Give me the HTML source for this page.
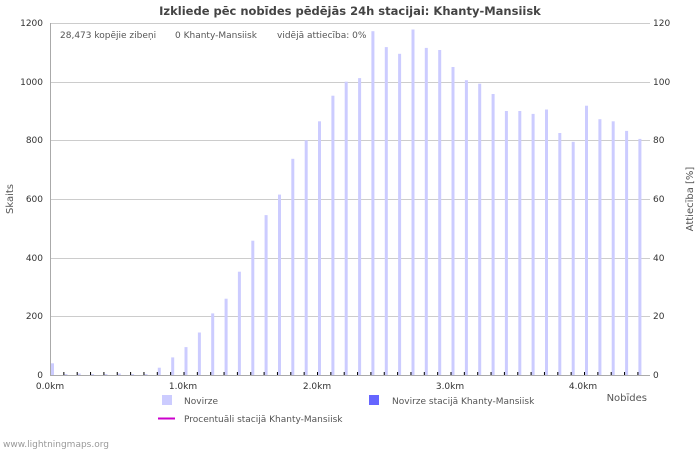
<!DOCTYPE html>
<html><head><meta charset="utf-8"><style>
body{margin:0;background:#fff}
svg{display:block;font-family:"DejaVu Sans","Liberation Sans",sans-serif}
</style></head><body>
<svg width="700" height="450" viewBox="0 0 700 450">
<rect width="700" height="450" fill="#fff"/>
<text x="350" y="15" text-anchor="middle" font-size="11.5" font-weight="bold" fill="#444">Izkliede pēc nobīdes pēdējās 24h stacijai: Khanty-Mansiisk</text>
<g stroke="#ccc" stroke-width="1">
<line x1="50" y1="23.5" x2="650" y2="23.5"/>
<line x1="50" y1="82.5" x2="650" y2="82.5"/>
<line x1="50" y1="140.5" x2="650" y2="140.5"/>
<line x1="50" y1="199.5" x2="650" y2="199.5"/>
<line x1="50" y1="258.5" x2="650" y2="258.5"/>
<line x1="50" y1="316.5" x2="650" y2="316.5"/>
</g>
<g fill="#ccccff">
<rect x="51.0" y="363.3" width="3" height="11.7"/>
<rect x="64.4" y="374.1" width="3" height="0.9"/>
<rect x="77.7" y="373.5" width="3" height="1.5"/>
<rect x="91.1" y="374.1" width="3" height="0.9"/>
<rect x="104.4" y="374.1" width="3" height="0.9"/>
<rect x="117.8" y="373.5" width="3" height="1.5"/>
<rect x="131.1" y="374.1" width="3" height="0.9"/>
<rect x="144.5" y="374.1" width="3" height="0.9"/>
<rect x="157.8" y="367.7" width="3" height="7.3"/>
<rect x="171.2" y="357.4" width="3" height="17.6"/>
<rect x="184.5" y="347.1" width="3" height="27.9"/>
<rect x="197.9" y="332.5" width="3" height="42.5"/>
<rect x="211.2" y="313.4" width="3" height="61.6"/>
<rect x="224.6" y="298.7" width="3" height="76.3"/>
<rect x="237.9" y="271.7" width="3" height="103.3"/>
<rect x="251.3" y="240.7" width="3" height="134.3"/>
<rect x="264.6" y="215.1" width="3" height="159.9"/>
<rect x="278.0" y="194.6" width="3" height="180.4"/>
<rect x="291.3" y="158.8" width="3" height="216.2"/>
<rect x="304.7" y="140.3" width="3" height="234.7"/>
<rect x="318.0" y="121.3" width="3" height="253.7"/>
<rect x="331.4" y="95.7" width="3" height="279.3"/>
<rect x="344.7" y="81.7" width="3" height="293.3"/>
<rect x="358.1" y="78.1" width="3" height="296.9"/>
<rect x="371.4" y="31.2" width="3" height="343.8"/>
<rect x="384.8" y="47.1" width="3" height="327.9"/>
<rect x="398.1" y="53.8" width="3" height="321.2"/>
<rect x="411.5" y="29.5" width="3" height="345.5"/>
<rect x="424.8" y="47.9" width="3" height="327.1"/>
<rect x="438.2" y="50.0" width="3" height="325.0"/>
<rect x="451.5" y="67.0" width="3" height="308.0"/>
<rect x="464.9" y="80.2" width="3" height="294.8"/>
<rect x="478.2" y="83.7" width="3" height="291.3"/>
<rect x="491.6" y="94.0" width="3" height="281.0"/>
<rect x="504.9" y="111.0" width="3" height="264.0"/>
<rect x="518.3" y="111.0" width="3" height="264.0"/>
<rect x="531.6" y="113.9" width="3" height="261.1"/>
<rect x="545.0" y="109.5" width="3" height="265.5"/>
<rect x="558.3" y="133.0" width="3" height="242.0"/>
<rect x="571.7" y="141.8" width="3" height="233.2"/>
<rect x="585.0" y="105.7" width="3" height="269.3"/>
<rect x="598.4" y="119.2" width="3" height="255.8"/>
<rect x="611.7" y="121.3" width="3" height="253.7"/>
<rect x="625.1" y="130.9" width="3" height="244.1"/>
<rect x="638.4" y="138.9" width="3" height="236.1"/>
</g>
<line x1="63.35" y1="373.5" x2="650" y2="373.5" stroke="#000" stroke-width="3" stroke-dasharray="1 12.35"/>
<line x1="50.5" y1="23" x2="50.5" y2="375" stroke="#aaa"/>
<line x1="50" y1="375.5" x2="650" y2="375.5" stroke="#aaa"/>
<g font-size="9" fill="#333" text-anchor="end">
<text x="43" y="26">1200</text><text x="43" y="85">1000</text><text x="43" y="143">800</text>
<text x="43" y="202">600</text><text x="43" y="261">400</text><text x="43" y="319">200</text><text x="43" y="378">0</text>
</g>
<g font-size="9" fill="#333" text-anchor="start">
<text x="653" y="26">120</text><text x="653" y="85">100</text><text x="653" y="143">80</text>
<text x="653" y="202">60</text><text x="653" y="261">40</text><text x="653" y="319">20</text><text x="653" y="378">0</text>
</g>
<g font-size="9" fill="#333" text-anchor="middle">
<text x="50" y="389">0.0km</text><text x="183" y="389">1.0km</text><text x="317" y="389">2.0km</text>
<text x="450" y="389">3.0km</text><text x="583" y="389">4.0km</text>
</g>
<text x="13" y="199" font-size="10" fill="#555" text-anchor="middle" transform="rotate(-90 13 199)">Skaits</text>
<text x="693" y="199" font-size="10" fill="#555" text-anchor="middle" transform="rotate(-90 693 199)">Attiecība [%]</text>
<text x="647" y="401" font-size="10" fill="#555" text-anchor="end">Nobīdes</text>
<g font-size="9" fill="#555">
<text x="60" y="38">28,473 kopējie zibeņi</text>
<text x="175" y="38">0 Khanty-Mansiisk</text>
<text x="277" y="38">vidējā attiecība: 0%</text>
</g>
<rect x="162" y="395" width="10" height="10" fill="#ccccff"/>
<text x="184" y="404" font-size="9" fill="#555">Novirze</text>
<rect x="369" y="395" width="10" height="10" fill="#6666ff"/>
<text x="392" y="404" font-size="9" fill="#555">Novirze stacijā Khanty-Mansiisk</text>
<line x1="158" y1="418.5" x2="175" y2="418.5" stroke="#cc00cc" stroke-width="2"/>
<text x="184" y="422" font-size="9" fill="#555">Procentuāli stacijā Khanty-Mansiisk</text>
<text x="3" y="447" font-size="9" fill="#999">www.lightningmaps.org</text>
</svg>
</body></html>
